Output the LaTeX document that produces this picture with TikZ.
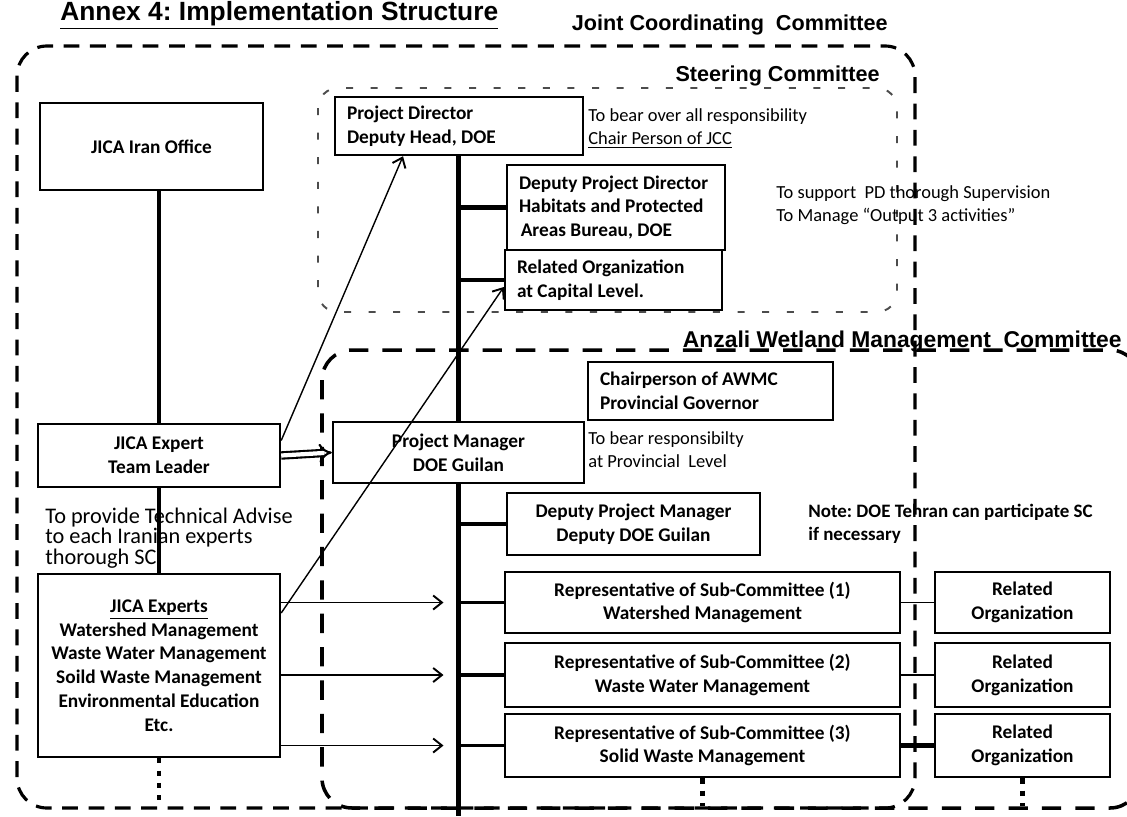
\documentclass[tikz,border=0pt]{standalone}
\usepackage{fontspec}
\setmainfont{Carlito}
\newfontfamily\arialfont{Liberation Sans}
\usetikzlibrary{arrows.meta,calc}

\begin{document}
\begin{tikzpicture}[x=0.02cm, y=-0.02cm,
					%one unit is one pixel of the scan
					box/.style={draw, fill=white, line width=1.4pt, inner sep=0pt, align=center,
					            font=\bfseries\fontsize{11}{13.5}\selectfont},
					leftbox/.style={box, align=flush left, inner xsep=0.24cm},
					note/.style={anchor=west, align=flush left, inner sep=0pt,
					             font=\fontsize{10.5}{13}\selectfont},
					committee/.style={inner sep=0pt, font=\arialfont\bfseries\fontsize{12.3}{14}\selectfont},
					jcc/.style={line width=1.8pt, dash pattern=on 9pt off 6pt, rounded corners=0.6cm},
					steer/.style={line width=1.1pt, black!70, dash pattern=on 4pt off 10pt, rounded corners=0.4cm},
					awmc/.style={line width=2pt, dash pattern=on 11pt off 8pt, rounded corners=0.6cm},
					trunk/.style={line width=2.6pt},
					branch/.style={line width=1.8pt},
					tie/.style={line width=1pt},
					more/.style={line width=2.4pt, dash pattern=on 3pt off 4pt},
					link/.style={line width=0.8pt, -{Straight Barb[length=5pt, width=8pt, line width=1.1pt]}},
					double link/.style={line width=1.2pt, double, double distance=2.4pt, -{Implies[scale=1.6]}}]

  \useasboundingbox (0,0) rectangle (1127,816);
  \clip (0,0) rectangle (1127,816);

  % committees
  \draw[jcc] (17,46) rectangle (915,808);
  \draw[steer] (318,88) rectangle (897,312);
  \draw[awmc] (322,350) rectangle (1140,808);

  \node[anchor=base west, inner sep=0pt, font=\arialfont\bfseries\fontsize{15}{18}\selectfont\frenchspacing]
    (title) at (60,20) {\underline{Annex 4: Implementation Structure}};
  \node[committee, anchor=base east] (jcclabel) at (888,30) {Joint Coordinating\ \ Committee};
  \node[committee, anchor=base east] (sclabel) at (880,81) {Steering Committee};
  \node[committee, anchor=base east, font=\arialfont\bfseries\fontsize{13}{15}\selectfont]
    (awmclabel) at (1122,347) {Anzali\ Wetland Management\ \ Committee};

  % boxes
  \node[box, minimum width=4.46cm, minimum height=1.74cm] (iran) at (151.5,146.5) {JICA Iran Office};
  \node[leftbox, text width=4.48cm, minimum height=1.16cm] (pd) at (459,126) {Project Director\\Deputy Head, DOE};
  \node[leftbox, text width=3.88cm, minimum height=1.7cm] (dpd) at (616,207.5)
    {Deputy Project Director\\Habitats and Protected\\\hspace*{1pt}Areas Bureau, DOE};
  \node[leftbox, text width=3.86cm, minimum height=1.2cm] (rocap) at (613.5,280) {Related Organization\\at Capital\ Level.};
  \node[leftbox, text width=4.42cm, minimum height=1.16cm] (chair) at (710.5,391) {Chairperson of AWMC\\Provincial Governor};
  \node[box, minimum width=5.02cm, minimum height=1.22cm] (pm) at (458.5,452.5) {Project Manager\\DOE Guilan};
  \node[box, minimum width=4.84cm, minimum height=1.26cm] (lead) at (159,455.5) {JICA Expert\\Team Leader};
  \node[box, minimum width=5.06cm, minimum height=1.24cm] (dpm) at (633.5,524) {Deputy Project Manager\\Deputy DOE Guilan};
  \node[box, minimum width=7.9cm, minimum height=1.22cm] (sub1) at (702.5,602.5)
    {Representative of Sub-Committee (1)\\Watershed Management};
  \node[box, minimum width=7.9cm, minimum height=1.28cm] (sub2) at (702.5,675)
    {Representative of Sub-Committee (2)\\Waste Water Management};
  \node[box, minimum width=7.9cm, minimum height=1.26cm] (sub3) at (702.5,745.5)
    {Representative of Sub-Committee (3)\\Solid Waste Management};
  \node[box, minimum width=3.5cm, minimum height=1.22cm] (org1) at (1022.5,602.5) {Related\\Organization};
  \node[box, minimum width=3.5cm, minimum height=1.28cm] (org2) at (1022.5,675) {Related\\Organization};
  \node[box, minimum width=3.5cm, minimum height=1.26cm] (org3) at (1022.5,745.5) {Related\\Organization};
  \node[box, minimum width=4.84cm, minimum height=3.66cm] (experts) at (159,665.5)
    {\underline{JICA Experts}\\Watershed Management\\Waste Water Management\\Soild Waste Management\\Environmental Education\\Etc.};

  % remarks
  \node[note] (pdnote) at (588,128.5) {To bear over\ all responsibility\\\underline{Chair Person of JCC}};
  \node[note] (dpdnote) at (776,205) {To support\ \ PD thorough\ Supervision\\To Manage “Output\ 3 activities”};
  \node[note] (pmnote) at (588,449.5) {To bear responsibilty\\at Provincial\ \ Level};
  \node[note, font=\bfseries\fontsize{10.8}{13}\selectfont\frenchspacing] (tehran) at (808,523.5) {Note: DOE Tehran can participate SC\\if necessary};
  \node[note, font=\fontsize{12.7}{11.5}\selectfont] (advise) at (45,538)
    {To provide Technical Advise\\to each Iranian experts\\thorough SC};

  \coordinate (spineend) at (458.5,816);
  \coordinate (expertsmore) at (159,800);
  \coordinate (sub3more) at (702.5,806);
  \coordinate (org3more) at (1022.5,806);

  % lines
  \draw[trunk] (lead.north) -- (lead.north |- iran.south);
  \draw[trunk] (lead.south) -- (experts.north);
  \draw[trunk] (pm.north) -- (pm.north |- pd.south);
  \draw[trunk] (pm.south) -- (spineend);
  \draw[trunk] (pm.north |- dpd.west) -- (dpd.west);
  \draw[trunk] (pm.north |- rocap.west) -- (rocap.west);
  \draw[trunk] (pm.south |- dpm.west) -- (dpm.west);
  \draw[branch] (pm.south |- sub1.west) -- (sub1.west);
  \draw[branch] (pm.south |- sub2.west) -- (sub2.west);
  \draw[branch] (pm.south |- sub3.west) -- (sub3.west);
  \draw[tie] (sub1.east) -- (org1.west);
  \draw[tie] (sub2.east) -- (org2.west);
  \draw[trunk] (sub3.east) -- (org3.west);
  \draw[more] (experts.south) -- (expertsmore);
  \draw[more] (sub3.south) -- (sub3more);
  \draw[more] (org3.south) -- (org3more);

  % arrows
  \draw[link] (lead.7) -- ([xshift=-1.12cm]pd.south);
  \draw[link] ([yshift=1.05cm]experts.east) -- ([yshift=-0.14cm]rocap.west);
  \draw[double link] (lead.east) -- (pm.west);
  \draw[link] (experts.east |- sub1.west) -- ($(pm.south |- sub1.west)+(-15,0)$);
  \draw[link] (experts.east |- sub2.west) -- ($(pm.south |- sub2.west)+(-15,0)$);
  \draw[link] (experts.east |- sub3.west) -- ($(pm.south |- sub3.west)+(-15,0)$);
\end{tikzpicture}
\end{document}
